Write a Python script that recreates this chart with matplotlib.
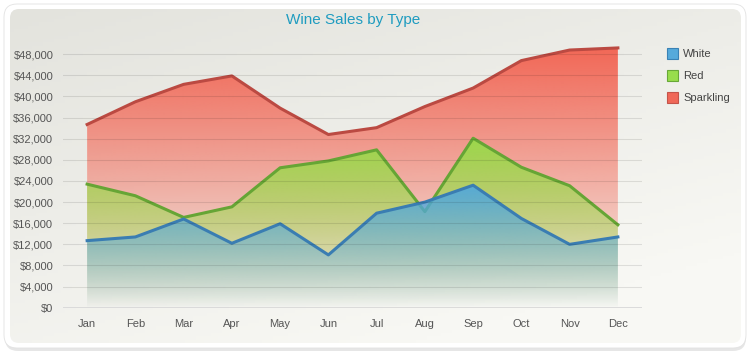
import numpy as np
import matplotlib
matplotlib.use('Agg')
import matplotlib.pyplot as plt
from matplotlib.patches import FancyBboxPatch, Rectangle
from matplotlib.colors import to_rgb

plt.rcParams['font.family'] = ['Liberation Sans', 'DejaVu Sans']

months = ['Jan', 'Feb', 'Mar', 'Apr', 'May', 'Jun', 'Jul', 'Aug', 'Sep', 'Oct', 'Nov', 'Dec']
white = [12700, 13400, 16800, 12200, 15900, 10000, 17900, 20000, 23200, 16900, 12000, 13400]
red = [23400, 21200, 17100, 19100, 26500, 27800, 29900, 18200, 32100, 26600, 23100, 15700]
sparkling = [34700, 39000, 42300, 43900, 37800, 32800, 34100, 38100, 41600, 46800, 48800, 49200]
series_names = ['White', 'Red', 'Sparkling']
y_ticks = list(range(0, 48001, 4000))
y_labels = [f'${v:,}' for v in y_ticks]

W, H = 750, 360
fig = plt.figure(figsize=(W / 100, H / 100), dpi=100)
fig.patch.set_facecolor('white')

# background card
bg = fig.add_axes([0, 0, 1, 1])
bg.set_xlim(0, W)
bg.set_ylim(H, 0)
bg.axis('off')
shadow = FancyBboxPatch((5, 6), 741, 345, boxstyle='round,pad=0,rounding_size=13',
                        facecolor='#d6d6d6', edgecolor='none', alpha=0.6)
bg.add_patch(shadow)
outer = FancyBboxPatch((4, 4), 742, 344, boxstyle='round,pad=0,rounding_size=13',
                       facecolor='white', edgecolor='#e2e2e2', linewidth=0.6)
bg.add_patch(outer)
inner = FancyBboxPatch((10, 9), 731, 334, boxstyle='round,pad=0,rounding_size=9',
                       facecolor='none', edgecolor='none')
bg.add_patch(inner)
gx, gy = np.meshgrid(np.linspace(0, 1, 200), np.linspace(0, 1, 100))
t = np.clip(0.45 * gx + 0.75 * gy, 0, 1)
c0 = np.array(to_rgb('#e3e3dd'))
c1 = np.array(to_rgb('#f8f8f4'))
gimg = c0[None, None, :] * (1 - t[..., None]) + c1[None, None, :] * t[..., None]
im = bg.imshow(gimg, extent=[10, 741, 343, 9], aspect='auto', zorder=1)
im.set_clip_path(inner)
bg.set_xlim(0, W)
bg.set_ylim(H, 0)

fig.text(353 / W, 1 - 20 / H, 'Wine Sales by Type', ha='center', va='center',
         fontsize=11, color='#1f9cc0')

# legend
leg_fill = ['#56aadb', '#98dd4c', '#f06858']
leg_edge = ['#3a82b5', '#68a838', '#c4544a']
for i, (nm, fc, ec) in enumerate(zip(series_names, leg_fill, leg_edge)):
    yy = 48 + i * 22
    bg.add_patch(Rectangle((667, yy), 11, 11, facecolor=fc, edgecolor=ec, lw=0.8, zorder=3))
    bg.text(683, yy + 6, nm, fontsize=8, color='#444444', va='center', ha='left', zorder=3)

# main axes
ax = fig.add_axes([63 / W, 1 - 307.7 / H, (642 - 63) / W, (307.7 - 43.7) / H])
ax.patch.set_visible(False)
x = np.arange(len(months))


def grad_fill(xv, yv, color, a_top, a_bot, z):
    poly, = ax.fill(np.r_[xv[0], xv, xv[-1]], np.r_[0, yv, 0],
                    facecolor='none', edgecolor='none', zorder=z)
    ymax = max(yv)
    n = 256
    img = np.zeros((n, 1, 4))
    img[..., :3] = to_rgb(color)
    img[..., 3] = np.linspace(a_top, a_bot, n)[:, None]
    imh = ax.imshow(img, extent=[xv[0], xv[-1], 0, ymax], aspect='auto',
                    origin='upper', zorder=z, interpolation='bilinear')
    imh.set_clip_path(poly)


data = [sparkling, red, white]
fills = ['#f26857', '#97dc48', '#52a8dc']
lines = ['#bb4a42', '#66a535', '#3a7db2']
tops = [1.0, 0.95, 0.95]
for i, (d, fc, lc, at) in enumerate(zip(data, fills, lines, tops)):
    grad_fill(x, d, fc, at, 0.0, 2 + 2 * i)
    ax.plot(x, d, color=lc, lw=2.2, zorder=3 + 2 * i, solid_joinstyle='round')

for v in y_ticks[1:]:
    ax.axhline(v, color='black', alpha=0.1, lw=0.8, zorder=10)
ax.axhline(0, color='#d8d8d8', lw=2, zorder=10)

ax.set_xlim(-0.5, 11.5)
ax.set_ylim(0, 50000)
ax.set_yticks(y_ticks)
ax.set_yticklabels(y_labels)
ax.set_xticks(x)
ax.set_xticklabels(months)
ax.tick_params(axis='both', length=0, labelsize=8, colors='#555555')
ax.tick_params(axis='y', pad=7)
ax.tick_params(axis='x', pad=8)
for s in ax.spines.values():
    s.set_visible(False)

fig.savefig('out.png', dpi=100, facecolor='white')
